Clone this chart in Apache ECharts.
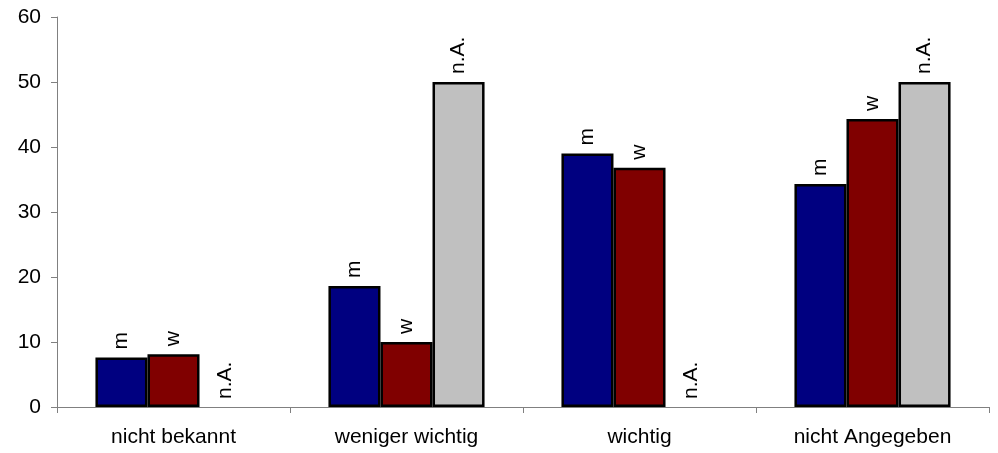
<!DOCTYPE html>
<html>
<head>
<meta charset="utf-8">
<script src="https://cdn.jsdelivr.net/npm/echarts@6/dist/echarts.min.js"></script>
<style>html,body{margin:0;padding:0;background:#fff}#c{width:998px;height:453px}</style>
</head>
<body>
<div id="c"></div>
<script>
const categories = ['nicht bekannt', 'weniger wichtig', 'wichtig', 'nicht Angegeben'];
const seriesNames = ['m', 'w', 'n.A.'];
const valuesM = [7.6, 18.6, 39.0, 34.3];
const valuesW = [8.1, 10.0, 36.8, 44.3];
const valuesNA = [0, 50, 0, 50];
const yTicks = { min: 0, max: 60, interval: 10 };

const colors = ['#000080', '#800000', '#c0c0c0'];
const allValues = [valuesM, valuesW, valuesNA];
const FONT = 'Liberation Sans, Arial, sans-serif';

const chart = echarts.init(document.getElementById('c'));
chart.setOption({
  animation: false,
  grid: { left: 57, right: 9, top: 17, bottom: 46 },
  xAxis: {
    type: 'category',
    data: categories,
    axisLine: { lineStyle: { color: '#808080', width: 1 } },
    axisTick: { show: true, length: 6, lineStyle: { color: '#808080' } },
    axisLabel: { color: '#000', fontFamily: FONT, fontSize: 21, margin: 20 }
  },
  yAxis: {
    type: 'value',
    min: yTicks.min, max: yTicks.max, interval: yTicks.interval,
    axisLine: { show: true, lineStyle: { color: '#808080', width: 1 } },
    axisTick: { show: true, length: 6, lineStyle: { color: '#808080' } },
    splitLine: { show: false },
    axisLabel: { color: '#000', fontFamily: FONT, fontSize: 21, margin: 16 }
  },
  series: allValues.map((vals, i) => ({
    name: seriesNames[i],
    type: 'bar',
    data: vals.map(v => v === 0 ? { value: v, itemStyle: { borderWidth: 0 } } : v),
    barGap: '0%',
    barCategoryGap: '33%',
    itemStyle: { color: colors[i], borderColor: '#000', borderWidth: 2.5 },
    label: {
      show: true,
      position: 'top',
      rotate: 90,
      align: 'left',
      verticalAlign: 'middle',
      distance: 8,
      color: '#000',
      fontFamily: FONT,
      fontSize: 21,
      formatter: () => seriesNames[i]
    }
  }))
});
</script>
</body>
</html>
